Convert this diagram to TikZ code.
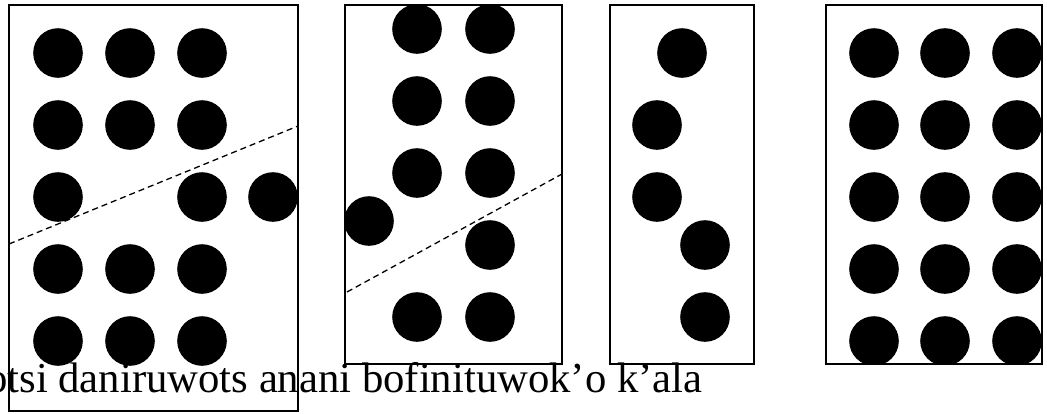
\documentclass[tikz,border=0pt]{standalone}
\usepackage{fontspec}
\setmainfont{Liberation Serif}
\begin{document}
\begin{tikzpicture}[x=1pt,y=-1pt,
  frame/.style={draw=black,line width=1.3pt},
  dot/.style={fill=black},
  cutline/.style={draw=black,line width=1.3pt,dash pattern=on 6pt off 4pt},
  caption/.style={anchor=base west,inner sep=0pt,font=\fontsize{42.7}{50}\selectfont}]
\useasboundingbox (0,0) rectangle (1047,413);
\clip (0,0) rectangle (1047,413);
\fill[white] (0,0) rectangle (1047,413);
% box 1
\begin{scope}
\clip (9,5) rectangle (298,411);
\foreach \y in {53,125,269,341}{\foreach \x in {58,130,202}{\fill[dot] (\x,\y) circle (24.8);}}
\foreach \x in {58,202,273}{\fill[dot] (\x,197) circle (24.8);}
\end{scope}
\draw[frame] (9,5) rectangle (298,411);
\draw[cutline] (9,244) -- (298,126);
% box 2
\begin{scope}
\clip (345,5) rectangle (562,364);
\foreach \y in {29,101,173,317}{\foreach \x in {417,490}{\fill[dot] (\x,\y) circle (24.8);}}
\fill[dot] (490,245) circle (24.8);
\fill[dot] (369,221) circle (24.8);
\end{scope}
\draw[frame] (345,5) rectangle (562,364);
\draw[cutline] (347,292) -- (562,174);
% box 3
\begin{scope}
\clip (610,5) rectangle (754,364);
\fill[dot] (682,53) circle (24.8);
\fill[dot] (657,125) circle (24.8);
\fill[dot] (657,197) circle (24.8);
\fill[dot] (705,245) circle (24.8);
\fill[dot] (705,317) circle (24.8);
\end{scope}
\draw[frame] (610,5) rectangle (754,364);
% box 4
\begin{scope}
\clip (826,5) rectangle (1042,364);
\foreach \y in {53,125,197,269,341}{\foreach \x in {874,945,1017}{\fill[dot] (\x,\y) circle (24.8);}}
\end{scope}
\draw[frame] (826,5) rectangle (1042,364);
% caption
\node[caption] (cap) at (-14,392) {otsi daniruwots anani bofinituwok’o k’ala};
\end{tikzpicture}
\end{document}
